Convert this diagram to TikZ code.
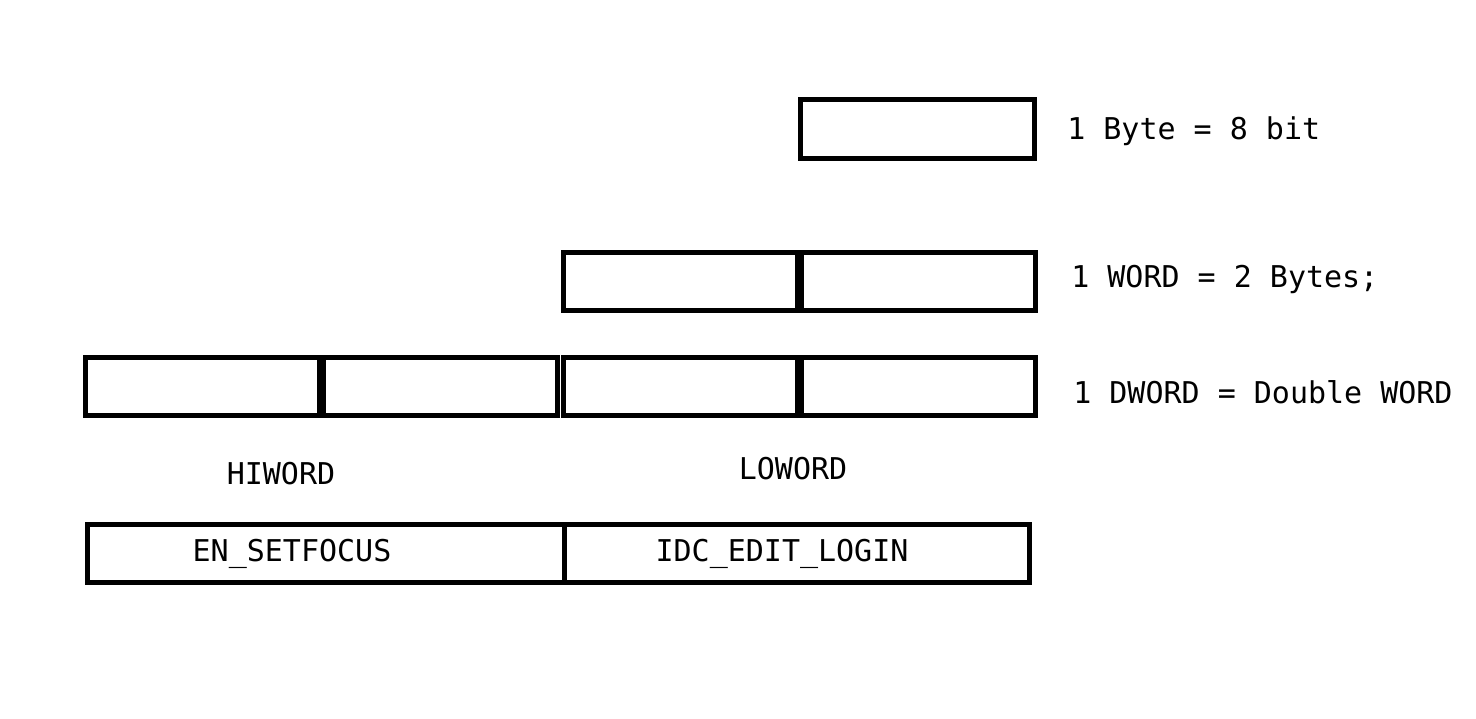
\documentclass[tikz,border=0pt]{standalone}
\usepackage{fontspec}
\setmonofont{DejaVu Sans Mono}
\usepackage{tikz}

\tikzset{
  cell/.style={draw, line width=3.75pt, minimum width=175.5pt, minimum height=44pt, inner sep=0pt},
  lbl/.style={font=\ttfamily\fontsize{22.5}{27}\selectfont, inner sep=0pt}
}

\begin{document}
\begin{tikzpicture}[x=0.75pt,y=-0.75pt]

\useasboundingbox (0,0) rectangle (1476,718);

% byte
\node [cell] (b0) at (917.5,129) {};

% word
\node [cell] (w1) at (680.5,281.5) {};
\node [cell] (w0) at (918.5,281.5) {};

% dword
\foreach \n/\x in {d3/202.5, d2/440.5, d1/680.5, d0/918.5}
    \node [cell] (\n) at (\x,386.5) {};

% hiword / loword values
\node [cell, minimum width=357.75pt] (hi) at (326,553.5) {};
\node [cell, minimum width=348.75pt] (lo) at (797,553.5) {};

\node [lbl] (hival) at (292,553.5) {EN\_SETFOCUS};
\node [lbl] (loval) at (782,553.5) {IDC\_EDIT\_LOGIN};

\node [lbl] (hilbl) at (281,474) {HIWORD};
\node [lbl] (lolbl) at (793,469) {LOWORD};

\node [lbl, anchor=west] (bytetxt) at (1067,131) {1 Byte = 8 bit};
\node [lbl, anchor=west] (wordtxt) at (1071,279) {1 WORD = 2 Bytes;};
\node [lbl, anchor=west] (dwordtxt) at (1073,392) {1 DWORD = Double WORD};

\end{tikzpicture}
\end{document}
